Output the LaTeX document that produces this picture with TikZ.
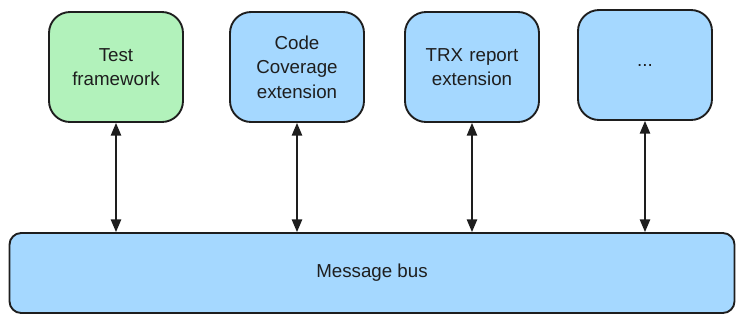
\documentclass[tikz,border=0pt]{standalone}
\usepackage{fontspec}
\setmainfont{Liberation Sans}
\usetikzlibrary{arrows.meta}
\definecolor{boxgreen}{HTML}{B2F2BB}
\definecolor{boxblue}{HTML}{A5D8FF}
\definecolor{ink}{HTML}{1E1E1E}
\tikzset{modbox/.style={draw=ink, line width=1.6pt, rounded corners=18pt,
  minimum width=134*0.03cm, minimum height=110*0.03cm, align=center,
  text width=120*0.03cm, font=\fontsize{16}{21}\selectfont, text=ink},
  busbox/.style={draw=ink, line width=1.6pt, rounded corners=10pt, fill=boxblue,
  minimum width=725*0.03cm, minimum height=80*0.03cm,
  font=\fontsize{16}{21}\selectfont, text=ink},
  link/.style={draw=ink, line width=1.2pt, {Triangle[length=3.8mm,width=3.1mm]}-{Triangle[length=3.8mm,width=3.1mm]}}}

\begin{document}
\begin{tikzpicture}[x=0.03cm, y=-0.03cm]
  \useasboundingbox (0,0) rectangle (743,324);
  \node[modbox, fill=boxgreen] (test) at (116,67) {Test\\framework};
  \node[modbox, fill=boxblue] (cov) at (297,67) {Code\\Coverage\\extension};
  \node[modbox, fill=boxblue] (trx) at (472,67) {TRX report\\extension};
  \node[modbox, fill=boxblue] (more) at (645,65) {...};
  \node[busbox] (bus) at (372,273) {Message bus};
  \foreach \m in {test,cov,trx,more}
    \draw[link] (\m.south) -- (\m.south |- bus.north);
\end{tikzpicture}
\end{document}
